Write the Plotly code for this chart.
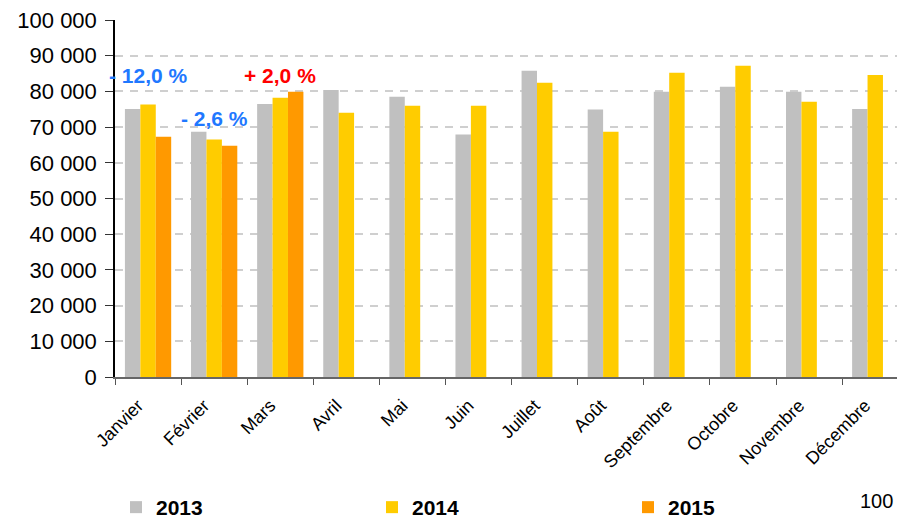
import plotly.graph_objects as go

months = ["Janvier", "Février", "Mars", "Avril", "Mai", "Juin", "Juillet",
          "Août", "Septembre", "Octobre", "Novembre", "Décembre"]
v2013 = [75100, 68700, 76500, 80400, 78500, 67900, 85800, 74900, 79900, 81300, 79900, 75100]
v2014 = [76300, 66500, 78200, 74000, 76000, 76000, 82400, 68700, 85200, 87200, 77100, 84600]
v2015 = [67300, 64800, 79900]
y_ticks = [0, 10000, 20000, 30000, 40000, 50000, 60000, 70000, 80000, 90000, 100000]
y_tick_labels = ["0", "10 000", "20 000", "30 000", "40 000", "50 000", "60 000",
                 "70 000", "80 000", "90 000", "100 000"]
ann_months = ["Janvier", "Février", "Mars"]
ann_text = ["- 12,0 %", "- 2,6 %", "+ 2,0 %"]
ann_y = [84500, 72300, 84500]
ann_color = ["#1f78ff", "#1f78ff", "#ff0000"]

FONT = "Liberation Sans, Arial, sans-serif"
OFF = 8  # the page body margin shifts the figure by 8 px
W, H = 905 - OFF, 518 - OFF
ML, MR, MT = 115 - OFF, 0, 20 - OFF
MB = H - (377 - OFF)
PW, PH = W - ML - MR, H - MT - MB

fig = go.Figure()
fig.add_bar(x=months, y=v2013, name="2013", marker_color="#c0c0c0", marker_line_width=0)
fig.add_bar(x=months, y=v2014, name="2014", marker_color="#ffcc00", marker_line_width=0)
fig.add_bar(x=months[:len(v2015)], y=v2015, name="2015", marker_color="#ff9900", marker_line_width=0)

for m, t, yv, c in zip(ann_months, ann_text, ann_y, ann_color):
    fig.add_annotation(x=m, y=yv, text="<b>%s</b>" % t, showarrow=False,
                       font=dict(family=FONT, size=21, color=c), xref="x", yref="y")

# cut-off page number in the bottom-right corner
fig.add_annotation(x=(858 - OFF - ML) / PW, y=-(501 - OFF - (MT + PH)) / PH,
                   xref="paper", yref="paper",
                   text="100", showarrow=False, xanchor="left", yanchor="middle",
                   font=dict(family=FONT, size=20, color="black"))

fig.update_layout(
    width=W, height=H,
    margin=dict(l=ML, r=MR, t=MT, b=MB, autoexpand=False),
    paper_bgcolor="white", plot_bgcolor="white",
    barmode="group", bargap=0.3, bargroupgap=0,
    font=dict(family=FONT, size=19, color="black"),
    showlegend=True,
    legend=dict(orientation="h", xref="container", yref="container",
                x=(116 - OFF) / W, xanchor="left", y=1 - (487 - OFF) / H, yanchor="top",
                entrywidth=211, entrywidthmode="pixels",
                font=dict(family=FONT, size=21, color="black", weight="bold"),
                traceorder="normal", bgcolor="rgba(0,0,0,0)"),
)

fig.update_xaxes(
    type="category", range=[-0.5, 11.45], automargin=False,
    tickangle=-45, tickfont=dict(family=FONT, size=18, color="black"),
    tickson="boundaries", ticks="outside", ticklen=6, tickcolor="#555555", tickwidth=1,
    ticklabelstandoff=9, ticklabelshift=-10, ticklabeloverflow="allow",
    showline=True, linecolor="#666666", linewidth=2,
    showgrid=False, zeroline=False,
)
fig.update_yaxes(
    range=[0, 100000], tickvals=y_ticks, ticktext=y_tick_labels, automargin=False,
    tickfont=dict(family=FONT, size=22, color="black"),
    ticks="outside", ticklen=8, tickcolor="#333333", tickwidth=1,
    ticklabelstandoff=4, ticklabeloverflow="allow",
    showline=True, linecolor="black", linewidth=1.5,
    showgrid=True, gridcolor="#cfcfcf", gridwidth=1.5, griddash="8px,7px",
    zeroline=False,
)

fig.write_html("out.html")
